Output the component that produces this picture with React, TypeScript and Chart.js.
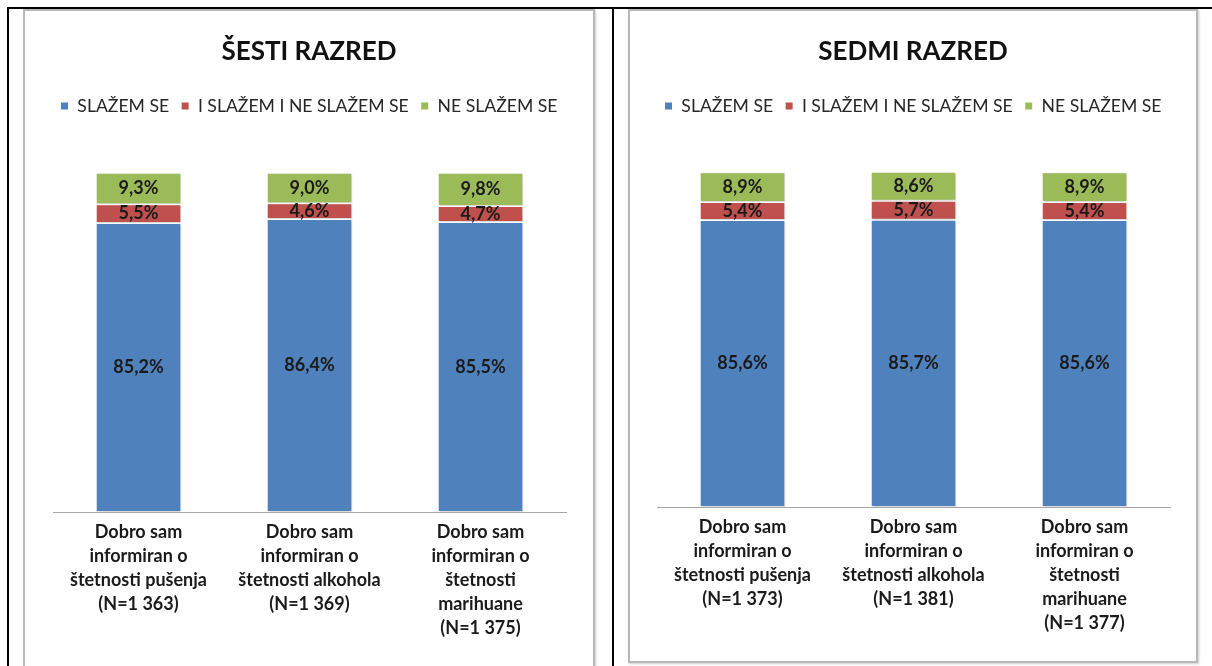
import React, { useEffect, useRef } from 'react';
import { Chart, registerables } from 'chart.js';

Chart.register(...registerables);

const seriesNames = ['SLAŽEM SE', 'I SLAŽEM I NE SLAŽEM SE', 'NE SLAŽEM SE'];
const seriesColors = ['#4F81BD', '#C0504D', '#9BBB59'];

const title6 = 'ŠESTI RAZRED';
const categories6 = [
  ['Dobro sam', 'informiran o', 'štetnosti pušenja', '(N=1 363)'],
  ['Dobro sam', 'informiran o', 'štetnosti alkohola', '(N=1 369)'],
  ['Dobro sam', 'informiran o', 'štetnosti', 'marihuane', '(N=1 375)'],
];
const agree6 = [85.2, 86.4, 85.5];
const neutral6 = [5.5, 4.6, 4.7];
const disagree6 = [9.3, 9.0, 9.8];

const title7 = 'SEDMI RAZRED';
const categories7 = [
  ['Dobro sam', 'informiran o', 'štetnosti pušenja', '(N=1 373)'],
  ['Dobro sam', 'informiran o', 'štetnosti alkohola', '(N=1 381)'],
  ['Dobro sam', 'informiran o', 'štetnosti', 'marihuane', '(N=1 377)'],
];
const agree7 = [85.6, 85.7, 85.6];
const neutral7 = [5.4, 5.7, 5.4];
const disagree7 = [8.9, 8.6, 8.9];

const fmt = (v: number) => v.toFixed(1).replace('.', ',') + '%';

const barShadow = {
  id: 'barShadow',
  beforeDatasetsDraw(chart: any) {
    const c = chart.ctx;
    c.save();
    c.shadowColor = 'rgba(0,0,0,0.22)';
    c.shadowBlur = 2;
    c.shadowOffsetX = 1;
    c.shadowOffsetY = 1;
  },
  afterDatasetsDraw(chart: any) {
    chart.ctx.restore();
  },
};

const barLabels = {
  id: 'barLabels',
  afterDatasetsDraw(chart: any) {
    const ctx = chart.ctx;
    ctx.save();
    ctx.font = 'bold 18px Lato';
    ctx.fillStyle = '#1a1a1a';
    ctx.textAlign = 'center';
    ctx.textBaseline = 'middle';
    chart.data.datasets.forEach((ds: any, i: number) => {
      const meta = chart.getDatasetMeta(i);
      meta.data.forEach((el: any, j: number) => {
        const v = ds.data[j];
        ctx.fillText(fmt(v), el.x, (el.y + el.base) / 2);
      });
    });
    ctx.restore();
  },
};

type PanelProps = {
  title: string;
  categories: string[][];
  values: number[][];
  width: number;
  height: number;
  padLeft: number;
  padRight: number;
  spacer: number;
  xHeight: number;
};

const EDGE = 4;

function Panel(p: PanelProps) {
  const ref = useRef<HTMLCanvasElement | null>(null);
  useEffect(() => {
    if (!ref.current) return;
    const hiddenSide = (w: number, pos: string) => ({
      type: 'linear',
      position: pos,
      display: true,
      grid: { display: false, drawTicks: false },
      border: { display: false },
      ticks: { display: false },
      afterFit: (s: any) => {
        s.width = w;
      },
    });
    const chart = new Chart(ref.current, {
      type: 'bar',
      data: {
        labels: p.categories as any,
        datasets: p.values.map((vals, i) => ({
          label: seriesNames[i],
          data: vals,
          backgroundColor: seriesColors[i],
          borderColor: '#ffffff',
          borderWidth: 1,
          borderSkipped: false,
          barPercentage: 0.5,
          categoryPercentage: 1,
        })),
      },
      options: {
        animation: false,
        responsive: false,
        maintainAspectRatio: false,
        layout: { padding: { left: EDGE, right: EDGE, top: 0, bottom: 0 } },
        plugins: {
          title: {
            display: true,
            text: p.title,
            color: '#111111',
            font: { family: 'Lato', size: 26, weight: 'bold' },
            padding: { top: 25, bottom: 18 },
          },
          legend: {
            display: true,
            position: 'top',
            labels: {
              boxWidth: 8,
              boxHeight: 8,
              padding: 12,
              color: '#262626',
              font: { family: 'Lato', size: 17.6 },
            },
          },
          tooltip: { enabled: false },
        },
        scales: {
          x: {
            stacked: true,
            grid: { display: false, drawTicks: false },
            border: { display: true, color: '#a6a6a6', width: 1 },
            ticks: {
              autoSkip: false,
              maxRotation: 0,
              minRotation: 0,
              padding: 8,
              color: '#1a1a1a',
              font: { family: 'Lato', size: 18, weight: 'bold', lineHeight: 24 / 18 },
            },
            afterFit: (s: any) => {
              s.height = p.xHeight;
            },
          },
          spacer: {
            type: 'category',
            position: 'top',
            display: true,
            grid: { display: false, drawTicks: false },
            border: { display: false },
            ticks: { display: false },
            afterFit: (s: any) => {
              s.height = p.spacer;
            },
          },
          y: {
            stacked: true,
            display: false,
            min: 0,
            max: 100,
          },
          leftGap: hiddenSide(p.padLeft - EDGE, 'left'),
          rightGap: hiddenSide(p.padRight - EDGE, 'right'),
        },
      } as any,
      plugins: [barShadow, barLabels],
    });
    return () => chart.destroy();
  }, []);
  return (
    <canvas
      ref={ref}
      width={p.width}
      height={p.height}
      style={{ width: p.width, height: p.height, display: 'block' }}
    />
  );
}

export default function App() {
  const line = { position: 'absolute' as const, background: '#000' };
  const box = {
    position: 'absolute' as const,
    boxSizing: 'border-box' as const,
    border: '2px solid #b8b8b8',
    boxShadow: '1px 1px 2px rgba(0,0,0,0.2)',
    background: '#fff',
  };
  return (
    <div style={{ position: 'fixed', left: 0, top: 0, width: 1212, height: 666, background: '#fff', overflow: 'hidden' }}>
      <div style={{ ...line, left: 7, top: 7, width: 1205, height: 2 }} />
      <div style={{ ...line, left: 7, top: 7, width: 2, height: 659 }} />
      <div style={{ ...line, left: 612, top: 7, width: 2, height: 659 }} />
      <div style={{ ...box, left: 23, top: 9, width: 572, height: 690 }}>
        <Panel
          title={title6}
          categories={categories6}
          values={[agree6, neutral6, disagree6]}
          width={568}
          height={650}
          padLeft={28}
          padRight={27}
          spacer={48}
          xHeight={149}
        />
      </div>
      <div style={{ ...box, left: 628, top: 9, width: 570, height: 654 }}>
        <Panel
          title={title7}
          categories={categories7}
          values={[agree7, neutral7, disagree7]}
          width={566}
          height={650}
          padLeft={27}
          padRight={26}
          spacer={47}
          xHeight={154}
        />
      </div>
    </div>
  );
}
